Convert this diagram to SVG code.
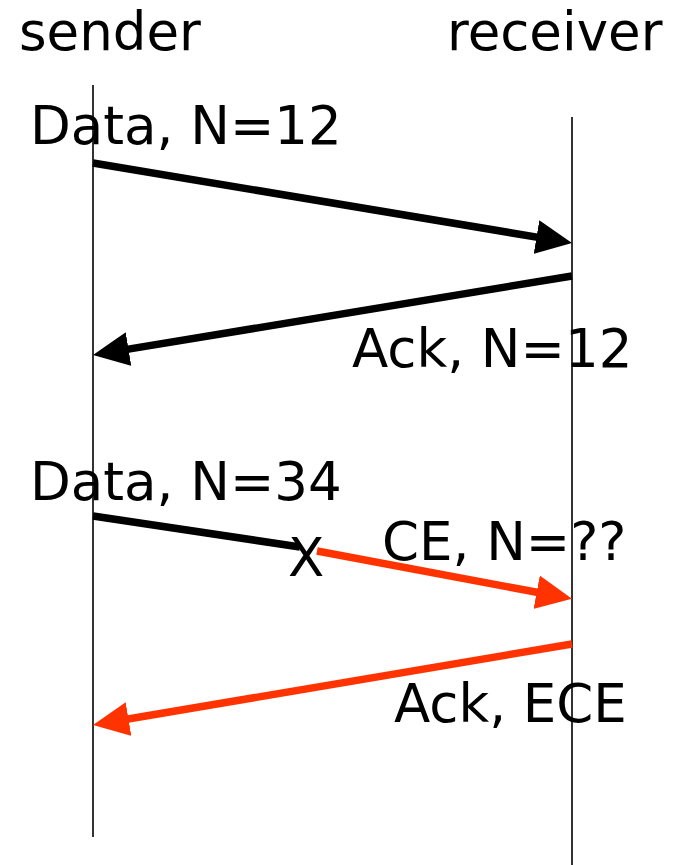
<svg xmlns="http://www.w3.org/2000/svg" width="677" height="865" viewBox="0 0 677 865">
  <style>
    text { font-family: "DejaVu Sans", Verdana, sans-serif; font-size: 53px; fill: #000; }
    .life { stroke: #000; stroke-width: 1.6; fill: none; }
    .msg { stroke: #000; stroke-width: 7.5; fill: none; }
    .msg.red { stroke: #FF3300; }
  </style>
  <defs>
    <marker id="head" markerUnits="userSpaceOnUse" viewBox="0 0 36 34" refX="14" refY="17" markerWidth="36" markerHeight="34" orient="auto">
      <path d="M0,0 L36,17 L0,34 z" fill="#000"/>
    </marker>
    <marker id="head-red" markerUnits="userSpaceOnUse" viewBox="0 0 36 34" refX="14" refY="17" markerWidth="36" markerHeight="34" orient="auto">
      <path d="M0,0 L36,17 L0,34 z" fill="#FF3300"/>
    </marker>
  </defs>

  <g id="sender">
    <text x="19" y="50">sender</text>
    <line class="life" x1="93" y1="85" x2="93" y2="837"/>
  </g>
  <g id="receiver">
    <text x="447" y="50">receiver</text>
    <line class="life" x1="572" y1="117" x2="572" y2="865"/>
  </g>

  <g id="connectors">
    <!-- Data, N=12 : sender to receiver -->
    <line class="msg" x1="93" y1="163" x2="550.3" y2="239.4" marker-end="url(#head)"/>
    <!-- Ack, N=12 : receiver to sender -->
    <line class="msg" x1="572" y1="276" x2="114.7" y2="351.4" marker-end="url(#head)"/>
    <!-- Data, N=34 : cut off at the router -->
    <line class="msg" x1="93" y1="516" x2="300" y2="547"/>
    <!-- CE-marked continuation -->
    <line class="msg red" x1="317" y1="551" x2="550.4" y2="594.8" marker-end="url(#head-red)"/>
    <!-- Ack, ECE : receiver to sender -->
    <line class="msg red" x1="572" y1="644" x2="114.7" y2="721.3" marker-end="url(#head-red)"/>
  </g>

  <g id="labels">
    <text x="30" y="144">Data, N=12</text>
    <text x="352" y="367">Ack, N=12</text>
    <text x="30" y="500">Data, N=34</text>
    <text x="288" y="576">X</text>
    <text x="382" y="560">CE, N=??</text>
    <text x="394" y="722">Ack, ECE</text>
  </g>
</svg>
